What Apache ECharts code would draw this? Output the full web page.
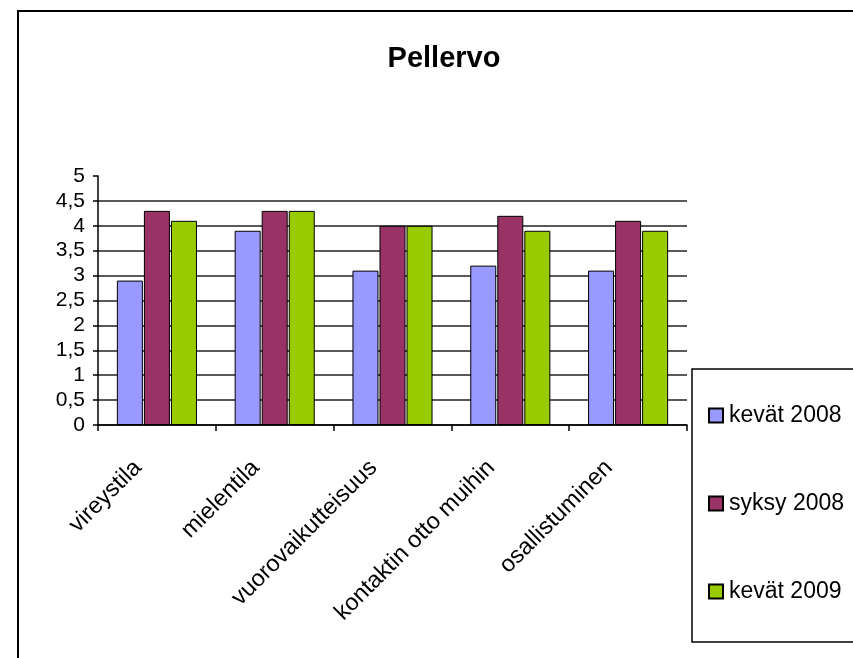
<!DOCTYPE html>
<html>
<head>
<meta charset="utf-8">
<script src="https://cdn.jsdelivr.net/npm/echarts@6/dist/echarts.min.js"></script>
<style>
  html, body { margin: 0; padding: 0; background: #fff; }
  #chart { width: 853px; height: 658px; }
</style>
</head>
<body>
<div id="chart"></div>
<script>
const categories = ['vireystila', 'mielentila', 'vuorovaikutteisuus', 'kontaktin otto muihin', 'osallistuminen']
const kevat2008 = [2.9, 3.9, 3.1, 3.2, 3.1]
const syksy2008 = [4.3, 4.3, 4.0, 4.2, 4.1]
const kevat2009 = [4.1, 4.3, 4.0, 3.9, 3.9]
const seriesNames = ['kevät 2008', 'syksy 2008', 'kevät 2009']
const colors = ['#9999FF', '#993366', '#99CC00']

const font = 'Liberation Sans, Arial, sans-serif'

const chart = echarts.init(document.getElementById('chart'))

function bar(name, data, color) {
  return {
    name: name,
    type: 'bar',
    data: data,
    barWidth: 26,
    barGap: '4%',
    itemStyle: { color: color, borderColor: '#000', borderWidth: 1 },
    animation: false
  }
}

chart.setOption({
  backgroundColor: '#fff',
  animation: false,
  color: colors,
  title: {
    text: 'Pellervo',
    left: 444,
    textAlign: 'center',
    top: 44,
    padding: 0,
    textStyle: { fontFamily: font, fontSize: 29, fontWeight: 'bold', color: '#000' }
  },
  graphic: [{
    type: 'rect',
    shape: { x: 18, y: 11, width: 900, height: 700 },
    style: { fill: 'none', stroke: '#000', lineWidth: 2 },
    silent: true,
    z: -1
  }],
  legend: {
    orient: 'vertical',
    left: 692,
    top: 369,
    padding: [35, 60, 39, 16],
    itemGap: 65,
    itemWidth: 14,
    itemHeight: 14,
    borderColor: '#000',
    borderWidth: 1.5,
    icon: 'rect',
    textStyle: { fontFamily: font, fontSize: 23, color: '#000', padding: [0, 0, 0, 1] },
    data: seriesNames
  },
  grid: {
    left: 98,
    right: 166,
    top: 176,
    bottom: 233,
    containLabel: false
  },
  xAxis: {
    type: 'category',
    data: categories,
    axisLine: { lineStyle: { color: '#000', width: 1.5 } },
    axisTick: { show: true, length: 6, lineStyle: { color: '#000', width: 1.5 } },
    axisLabel: {
      rotate: 45,
      margin: 20,
      padding: [0, 27, 0, 0],
      fontFamily: font,
      fontSize: 23.5,
      color: '#000',
      interval: 0
    }
  },
  yAxis: {
    type: 'value',
    min: 0,
    max: 5,
    interval: 0.5,
    axisLine: { show: true, lineStyle: { color: '#000', width: 1.5 } },
    axisTick: { show: true, length: 5, lineStyle: { color: '#000', width: 1.5 } },
    axisLabel: {
      margin: 13,
      fontFamily: font,
      fontSize: 21,
      color: '#000',
      formatter: function (v) { return String(v).replace('.', ',') }
    },
    splitLine: {
      show: true,
      showMaxLine: false,
      lineStyle: { color: '#222', width: 1.5 }
    }
  },
  series: [
    bar(seriesNames[0], kevat2008, colors[0]),
    bar(seriesNames[1], syksy2008, colors[1]),
    bar(seriesNames[2], kevat2009, colors[2])
  ]
})
</script>
</body>
</html>
